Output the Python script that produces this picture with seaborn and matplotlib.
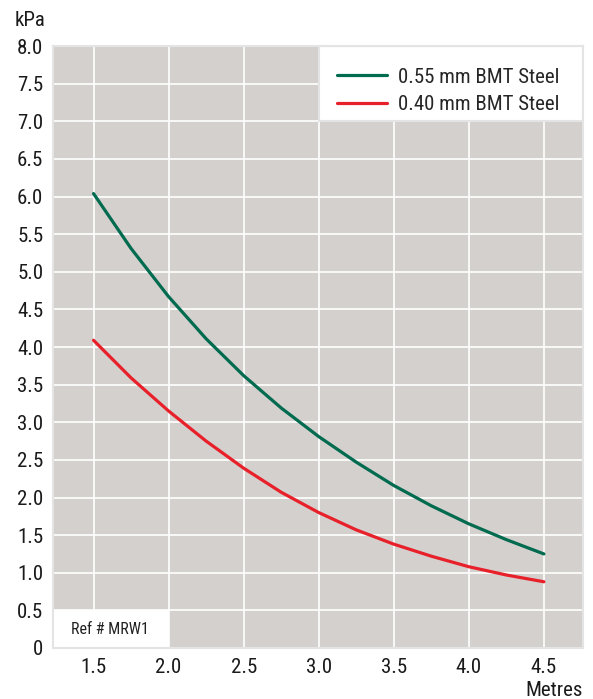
"""
Wind pressure capacity vs span for two steel thicknesses.
"""

import matplotlib
matplotlib.use('Agg')
import matplotlib.pyplot as plt
import matplotlib.patches as mpatches
from matplotlib import font_manager
import seaborn as sns
import pandas as pd

# Span in metres
span_m = [1.5, 1.75, 2.0, 2.25, 2.5, 2.75, 3.0, 3.25, 3.5, 3.75, 4.0, 4.25, 4.5]
# Pressure in kPa
steel_055 = [6.04, 5.31, 4.67, 4.11, 3.62, 3.19, 2.81, 2.47, 2.16, 1.89, 1.65, 1.44, 1.25]
steel_040 = [4.09, 3.59, 3.15, 2.75, 2.39, 2.07, 1.80, 1.57, 1.38, 1.22, 1.08, 0.97, 0.88]
series_names = ['0.55 mm BMT Steel', '0.40 mm BMT Steel']
series_colors = ['#006b4f', '#e8202a']

x_ticks = [1.5, 2.0, 2.5, 3.0, 3.5, 4.0, 4.5]
y_ticks = [0, 0.5, 1.0, 1.5, 2.0, 2.5, 3.0, 3.5, 4.0, 4.5, 5.0, 5.5, 6.0, 6.5, 7.0, 7.5, 8.0]
y_tick_labels = ['0'] + ['%.1f' % v for v in y_ticks[1:]]

sns.set_style('whitegrid', {
    'axes.facecolor': '#d4d0cd',
    'grid.color': 'white',
    'axes.edgecolor': '#e4e4e4',
})

# pick a narrow-ish font if there is one
installed = {f.name for f in font_manager.fontManager.ttflist}
family = 'DejaVu Sans'
for cand in ['Liberation Sans Narrow', 'Roboto Condensed', 'Open Sans Condensed', 'Roboto', 'Liberation Sans']:
    if cand in installed:
        family = cand
        break
plt.rcParams['font.family'] = [family, 'DejaVu Sans']

df = pd.DataFrame({
    'span': span_m * 2,
    'pressure': steel_055 + steel_040,
    'series': [series_names[0]] * len(span_m) + [series_names[1]] * len(span_m),
})

fig = plt.figure(figsize=(5.93, 6.99), dpi=100)
ax = fig.add_axes([0.0894, 0.073, 0.8936, 0.861])

sns.lineplot(data=df, x='span', y='pressure', hue='series',
             palette=dict(zip(series_names, series_colors)),
             linewidth=2.3, ax=ax, legend=False, zorder=3)
for ln in ax.lines:
    ln.set_solid_joinstyle('round')

ax.set_xlim(1.23, 4.76)
ax.set_ylim(0, 8.0)
ax.set_xticks(x_ticks)
ax.set_xticklabels(['%.1f' % v for v in x_ticks])
ax.set_yticks(y_ticks)
ax.set_yticklabels(y_tick_labels)
ax.grid(True, color='white', linewidth=1.2)
ax.tick_params(length=0, labelsize=15, pad=7, colors='#1a1a1a')
ax.set_xlabel('')
ax.set_ylabel('')
for sp in ax.spines.values():
    sp.set_linewidth(1.5)
    sp.set_color('#e4e4e4')

# white boxes for reference tag and legend
ax.add_patch(mpatches.Rectangle((1.23, 0), 0.77, 0.5, facecolor='white',
                                edgecolor='none', zorder=2.5))
ax.text(1.61, 0.25, 'Ref # MRW1', ha='center', va='center', fontsize=11.5,
        color='#222222', zorder=4)
ax.add_patch(mpatches.Rectangle((3.0, 7.0), 1.76, 1.0, facecolor='white',
                                edgecolor='#e4e4e4', linewidth=1.5, zorder=2.5))

handles = [plt.Line2D([], [], color=c, linewidth=2.3) for c in series_colors]
ax.legend(handles, series_names, loc='upper left', bbox_to_anchor=(0.52, 0.978),
          frameon=False, fontsize=15, handlelength=2.4, handletextpad=0.55,
          labelspacing=0.4, borderaxespad=0.0)

fig.text(0.024, 0.971, 'kPa', fontsize=15, ha='left', va='center', color='#1a1a1a')
fig.text(0.983, 0.012, 'Metres', fontsize=15, ha='right', va='center', color='#1a1a1a')

fig.savefig('out.png', dpi=100)
